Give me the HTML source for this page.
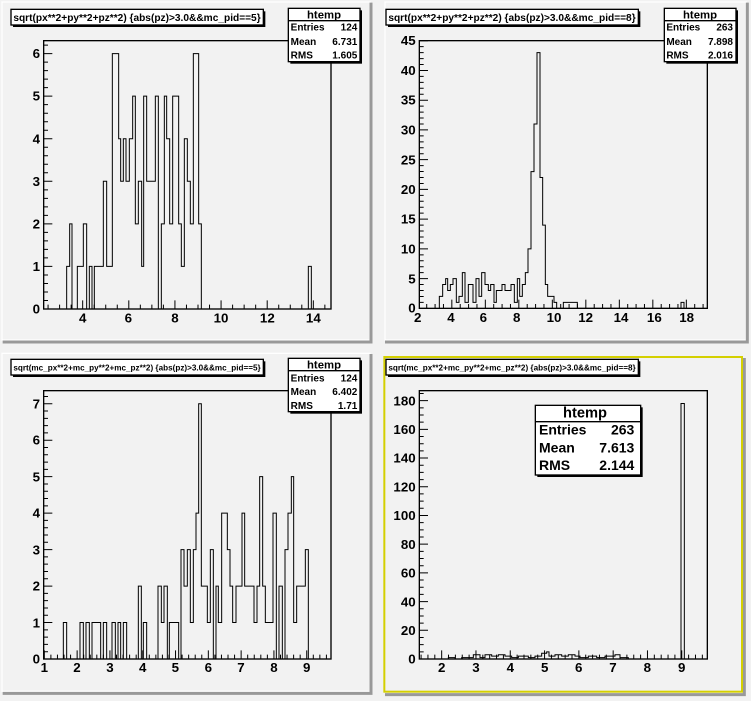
<!DOCTYPE html>
<html><head><meta charset="utf-8"><style>
html,body{margin:0;padding:0;background:#f2f2f2;width:751px;height:701px;overflow:hidden}
svg{position:absolute}
text{font-family:"Liberation Sans",sans-serif;font-weight:bold;fill:#000}
</style></head><body>
<svg id="p1" style="left:0;top:0" width="375" height="350" viewBox="0 0 1125 1050">
<rect x="0" y="0" width="1125" height="1050" fill="#f2f2f2"/>
<rect x="6" y="6" width="1104" height="1014" fill="#f2f2f2" stroke="#fff" stroke-width="4"/>
<path d="M1113 8 V1026 H8" fill="none" stroke="#999" stroke-width="9"/>
<rect x="131" y="122" width="862" height="805" fill="#f2f2f2" stroke="#000" stroke-width="4"/>
<g class="ax"></g>
<g font-size="40" text-anchor="middle">
<text x="248" y="968">4</text><text x="385" y="968">6</text><text x="525" y="968">8</text><text x="663" y="968">10</text><text x="802" y="968">12</text><text x="940" y="968">14</text>
</g>
<g font-size="40" text-anchor="end">
<text x="120" y="941">0</text><text x="120" y="813">1</text><text x="120" y="686">2</text><text x="120" y="558">3</text><text x="120" y="430">4</text><text x="120" y="302">5</text><text x="120" y="174">6</text>
</g>
<rect x="39" y="34" width="757" height="47" fill="#000"/>
<rect x="33" y="28" width="757" height="47" fill="#fff" stroke="#000" stroke-width="4"/>
<text x="40" y="63" font-size="30" textLength="742" lengthAdjust="spacingAndGlyphs">sqrt(px**2+py**2+pz**2) {abs(pz)&gt;3.0&amp;&amp;mc_pid==5}</text>
<rect x="871" y="31" width="215" height="160" fill="#000"/>
<rect x="865" y="25" width="215" height="160" fill="#fff" stroke="#000" stroke-width="4"/>
<line x1="865" y1="62" x2="1080" y2="62" stroke="#000" stroke-width="4"/>
<text x="972" y="55" font-size="34" font-weight="normal" text-anchor="middle">htemp</text>
<g font-size="30"><text x="872" y="92">Entries</text><text x="872" y="135">Mean</text><text x="872" y="175">RMS</text></g>
<g font-size="30" text-anchor="end"><text x="1072" y="92">124</text><text x="1072" y="135">6.731</text><text x="1072" y="175">1.605</text></g>
</svg>

<svg id="p2" style="left:375px;top:0" width="376" height="350" viewBox="0 0 1128 1050">
<rect x="0" y="0" width="1128" height="1050" fill="#f2f2f2"/>
<rect x="30" y="6" width="1084" height="1014" fill="#f2f2f2" stroke="#fff" stroke-width="4"/>
<path d="M1117 8 V1026 H30" fill="none" stroke="#999" stroke-width="9"/>
<rect x="133" y="122" width="864" height="803" fill="#f2f2f2" stroke="#000" stroke-width="4"/>
<g class="ax"></g>
<g font-size="40" text-anchor="middle">
<text x="128" y="966">2</text><text x="228" y="966">4</text><text x="325" y="966">6</text><text x="425" y="966">8</text><text x="537" y="966">10</text><text x="632" y="966">12</text><text x="738" y="966">14</text><text x="838" y="966">16</text><text x="935" y="966">18</text>
</g>
<g font-size="40" text-anchor="end">
<text x="122" y="938">0</text><text x="122" y="850">5</text><text x="122" y="760">10</text><text x="122" y="671">15</text><text x="122" y="582">20</text><text x="122" y="493">25</text><text x="122" y="403">30</text><text x="122" y="314">35</text><text x="122" y="225">40</text><text x="122" y="135">45</text>
</g>
<rect x="39" y="34" width="757" height="47" fill="#000"/>
<rect x="33" y="28" width="757" height="47" fill="#fff" stroke="#000" stroke-width="4"/>
<text x="40" y="63" font-size="30" textLength="742" lengthAdjust="spacingAndGlyphs">sqrt(px**2+py**2+pz**2) {abs(pz)&gt;3.0&amp;&amp;mc_pid==8}</text>
<rect x="874" y="31" width="215" height="160" fill="#000"/>
<rect x="868" y="25" width="215" height="160" fill="#fff" stroke="#000" stroke-width="4"/>
<line x1="868" y1="62" x2="1083" y2="62" stroke="#000" stroke-width="4"/>
<text x="975" y="55" font-size="34" font-weight="normal" text-anchor="middle">htemp</text>
<g font-size="30"><text x="874" y="92">Entries</text><text x="874" y="135">Mean</text><text x="874" y="175">RMS</text></g>
<g font-size="30" text-anchor="end"><text x="1074" y="92">263</text><text x="1074" y="135">7.898</text><text x="1074" y="175">2.016</text></g>
</svg>

<svg id="p3" style="left:0;top:350px" width="375" height="351" viewBox="0 0 1125 1053">
<rect x="0" y="0" width="1125" height="1053" fill="#f2f2f2"/>
<rect x="6" y="10" width="1104" height="1014" fill="#f2f2f2" stroke="#fff" stroke-width="4"/>
<path d="M1113 12 V1030 H8" fill="none" stroke="#999" stroke-width="9"/>
<rect x="131" y="122" width="862" height="805" fill="#f2f2f2" stroke="#000" stroke-width="4"/>
<g class="ax"></g>
<g font-size="40" text-anchor="middle">
<text x="133" y="966">1</text><text x="231" y="966">2</text><text x="330" y="966">3</text><text x="428" y="966">4</text><text x="526" y="966">5</text><text x="625" y="966">6</text><text x="723" y="966">7</text><text x="822" y="966">8</text><text x="920" y="966">9</text>
</g>
<g font-size="40" text-anchor="end">
<text x="120" y="941">0</text><text x="120" y="832">1</text><text x="120" y="722">2</text><text x="120" y="613">3</text><text x="120" y="503">4</text><text x="120" y="394">5</text><text x="120" y="284">6</text><text x="120" y="175">7</text>
</g>
<rect x="39" y="34" width="757" height="47" fill="#000"/>
<rect x="33" y="28" width="757" height="47" fill="#fff" stroke="#000" stroke-width="4"/>
<text x="40" y="62" font-size="26" textLength="742" lengthAdjust="spacingAndGlyphs">sqrt(mc_px**2+mc_py**2+mc_pz**2) {abs(pz)&gt;3.0&amp;&amp;mc_pid==5}</text>
<rect x="871" y="31" width="215" height="160" fill="#000"/>
<rect x="865" y="25" width="215" height="160" fill="#fff" stroke="#000" stroke-width="4"/>
<line x1="865" y1="62" x2="1080" y2="62" stroke="#000" stroke-width="4"/>
<text x="972" y="55" font-size="34" font-weight="normal" text-anchor="middle">htemp</text>
<g font-size="30"><text x="872" y="95">Entries</text><text x="872" y="135">Mean</text><text x="872" y="177">RMS</text></g>
<g font-size="30" text-anchor="end"><text x="1072" y="95">124</text><text x="1072" y="135">6.402</text><text x="1072" y="177">1.71</text></g>
</svg>

<svg id="p4" style="left:375px;top:350px" width="376" height="351" viewBox="0 0 1128 1053">
<rect x="0" y="0" width="1128" height="1053" fill="#f2f2f2"/>
<path d="M1108 24 V1034 H30" fill="none" stroke="#999" stroke-width="9"/>
<rect x="28" y="21" width="1073" height="1004" fill="#f2f2f2" stroke="#d4d000" stroke-width="6"/>
<rect x="133" y="122" width="864" height="805" fill="#f2f2f2" stroke="#000" stroke-width="4"/>
<g class="ax"></g>
<g font-size="40" text-anchor="middle">
<text x="200" y="966">2</text><text x="303" y="966">3</text><text x="406" y="966">4</text><text x="509" y="966">5</text><text x="611" y="966">6</text><text x="714" y="966">7</text><text x="817" y="966">8</text><text x="920" y="966">9</text>
</g>
<g font-size="40" text-anchor="end">
<text x="122" y="941">0</text><text x="122" y="855">20</text><text x="122" y="769">40</text><text x="122" y="683">60</text><text x="122" y="597">80</text><text x="122" y="510">100</text><text x="122" y="424">120</text><text x="122" y="338">140</text><text x="122" y="252">160</text><text x="122" y="166">180</text>
</g>
<rect x="39" y="34" width="757" height="47" fill="#000"/>
<rect x="33" y="28" width="757" height="47" fill="#fff" stroke="#000" stroke-width="4"/>
<text x="40" y="62" font-size="26" textLength="742" lengthAdjust="spacingAndGlyphs">sqrt(mc_px**2+mc_py**2+mc_pz**2) {abs(pz)&gt;3.0&amp;&amp;mc_pid==8}</text>
<rect x="487" y="172" width="316" height="209" fill="#000"/>
<rect x="481" y="166" width="316" height="209" fill="#fff" stroke="#000" stroke-width="4"/>
<line x1="481" y1="215" x2="797" y2="215" stroke="#000" stroke-width="4"/>
<text x="630" y="203" font-size="44" font-weight="normal" text-anchor="middle">htemp</text>
<g font-size="42" font-weight="normal"><text x="492" y="254">Entries</text><text x="492" y="308">Mean</text><text x="492" y="360">RMS</text></g>
<g font-size="42" font-weight="normal" text-anchor="end"><text x="778" y="254">263</text><text x="778" y="308">7.613</text><text x="778" y="360">2.144</text></g>
</svg>

<script>
var NS="http://www.w3.org/2000/svg";
function el(svg,tag,attrs){var e=document.createElementNS(NS,tag);for(var k in attrs)e.setAttribute(k,attrs[k]);var g=svg.querySelector('.ax');g.appendChild(e);return e;}
function axes(id,f,xa,ya){
 var s=document.getElementById(id),d="";
 for(var v=xa.min;v<=xa.max+1e-9;v+=xa.minor){var x=xa.p0+(v-xa.v0)*xa.s;if(x<f.l-1||x>f.r+1)continue;
  var maj=Math.abs(v/xa.major-Math.round(v/xa.major))<1e-6;d+="M"+x+" "+f.b+"V"+(f.b-(maj?26:13));}
 for(var v=ya.min;v<=ya.max+1e-9;v+=ya.minor){var y=ya.p0-(v)*ya.s;if(y<f.t-1)continue;
  var maj=Math.abs(v/ya.major-Math.round(v/ya.major))<1e-6;d+="M"+f.l+" "+y+"H"+(f.l+(maj?26:13));}
 el(s,"path",{d:d,stroke:"#000","stroke-width":3,fill:"none"});
}
function hist(id,segs,y0,k){
 var s=document.getElementById(id);var d="M"+segs[0][0]+" "+y0;
 for(var i=0;i<segs.length;i++){var sg=segs[i];d+="V"+(y0-sg[2]*k).toFixed(1)+"H"+sg[1];}
 d+="V"+y0;
 el(s,"path",{d:d,stroke:"#000","stroke-width":3,fill:"none"});
}
function mk(a){var r=[];for(var i=0;i<a.length-1;i+=2){r.push([a[i],a[i+2]!==undefined?a[i+2]:a[i]+9,a[i+1]]);}return r;}
axes("p1",{l:131,r:993,t:122,b:927},{p0:248,v0:4,s:69.2,minor:0.5,major:2,min:2.5,max:14.5},{p0:927,s:127.7,minor:0.2,major:1,min:0,max:6.2});
hist("p1",mk([200,1,209,2,216,0,232,1,250,2,260,0,268,1,276,0,283,1,310,3,320,1,337,6,356,4,362,3,370,4,378,3,388,4,398,5,406,2,415,3,425,1,431,5,440,3,466,5,475,0,484,2,493,5,500,4,509,2,518,5,536,2,544,1,553,4,562,3,571,2,580,6,596,2,604,0,925,1,934]),927,127.7);
axes("p2",{l:133,r:997,t:122,b:925},{p0:130,v0:2,s:50.25,minor:0.5,major:2,min:2,max:19},{p0:925,s:17.84,minor:1,major:5,min:0,max:45});
hist("p2",mk([193,2,203,4,212,5,218,3,226,4,234,5,244,1,252,2,262,6,270,1,280,4,294,1,303,5,312,2,320,6,330,4,340,3,347,4,357,1,364,3,381,4,390,3,408,4,418,1,427,5,434,2,442,4,451,6,459,10,468,23,477,31,486,43,495,22,503,14,511,4,518,2,537,1,545,0,565,1,607,0,918,1,927]),925,17.84);
axes("p3",{l:131,r:993,t:122,b:927},{p0:133,v0:1,s:98.4,minor:0.2,major:1,min:1,max:9.8},{p0:927,s:109.4,minor:0.2,major:1,min:0,max:7.2});
hist("p3",mk([190,1,200,0,240,1,250,0,258,1,268,0,276,1,302,0,310,1,320,0,336,1,346,0,354,1,362,0,370,1,380,0,415,2,424,0,430,1,440,0,474,2,484,1,492,2,502,0,508,1,536,0,543,3,552,2,562,3,571,1,580,3,588,4,596,7,604,2,622,1,631,3,640,0,648,2,655,1,665,4,682,3,690,2,698,1,708,2,726,4,734,2,762,1,771,2,779,5,788,2,796,1,819,4,829,0,837,2,847,0,855,3,864,4,874,5,881,1,890,2,916,3,925]),927,109.4);
axes("p4",{l:133,r:997,t:122,b:927},{p0:200,v0:2,s:102.9,minor:0.2,major:1,min:1.4,max:9.8},{p0:927,s:4.306,minor:5,major:20,min:0,max:185});
hist("p4",mk([220,1,240,0,260,1,295,3,315,1,330,3,350,2,370,3,390,2,410,1,430,2,460,1,480,2,500,4,515,5,522,2,540,3,560,2,580,3,600,2,615,1,640,2,665,1,690,2,720,3,735,1,760,0,918,178,928]),927,4.306);
</script>
</body></html>
